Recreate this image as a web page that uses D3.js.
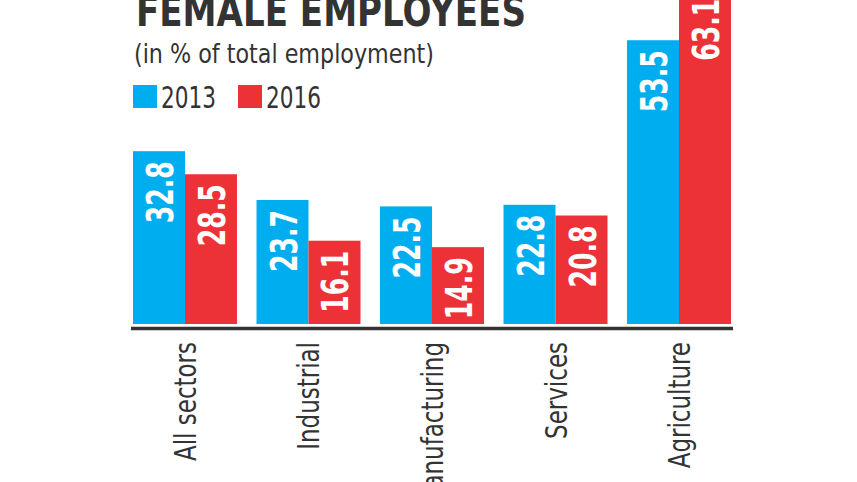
<!DOCTYPE html>
<html>
<head>
<meta charset="utf-8">
<script src="https://cdn.jsdelivr.net/npm/d3@7/dist/d3.min.js"></script>
<style>
  html, body { margin: 0; padding: 0; background: #fff; overflow: hidden; }
  svg { display: block; }
  .narrow { font-family: "Liberation Sans Narrow", "Arial Narrow", "DejaVu Sans Condensed", "DejaVu Sans", sans-serif; }
</style>
</head>
<body>
<svg id="chart" width="857" height="482"></svg>
<script>
const categories = ["All sectors", "Industrial", "Manufacturing", "Services", "Agriculture"];
const years = ["2013", "2016"];
const values2013 = [32.8, 23.7, 22.5, 22.8, 53.5];
const values2016 = [28.5, 16.1, 14.9, 20.8, 63.1];
const titleText = "FEMALE EMPLOYEES";
const subtitleText = "(in % of total employment)";

const colors = { "2013": "#00aeef", "2016": "#ed3237" };
const ink = "#333333";

const svg = d3.select("#chart");
const W = 857, H = 482;
svg.append("rect").attr("width", W).attr("height", H).attr("fill", "#fff");

const series = { "2013": values2013, "2016": values2016 };
const rows = categories.map((c, i) => ({ category: c, values: years.map(y => ({ year: y, value: series[y][i] })) }));

const x = d3.scaleBand().domain(categories).range([133, 731]).paddingInner(0.158).paddingOuter(0);
const xs = d3.scaleBand().domain(years).range([0, x.bandwidth()]).padding(0);
const y = d3.scaleLinear().domain([0, 60]).range([327, 5.4]);
const barBottom = y(0) - 3;

// condense a set of texts so that the reference node gets the target length
function condense(sel, refNode, target) {
  const factor = target / refNode.getComputedTextLength();
  sel.each(function () {
    const len = this.getComputedTextLength();
    d3.select(this).attr("textLength", len * factor).attr("lengthAdjust", "spacingAndGlyphs");
  });
}

// Title
const title = svg.append("text").attr("class", "narrow")
  .attr("x", 136).attr("y", 26)
  .attr("font-size", 43).attr("font-weight", "bold").attr("fill", ink)
  .text(titleText);
condense(title, title.node(), 390);

// Subtitle
const sub = svg.append("text").attr("class", "narrow")
  .attr("x", 134).attr("y", 63)
  .attr("font-size", 27).attr("fill", ink)
  .text(subtitleText);
condense(sub, sub.node(), 300);

// Legend
const legendX = [133, 238];
const lg = svg.selectAll("g.legend").data(years).join("g").attr("class", "legend")
  .attr("transform", (d, i) => `translate(${legendX[i]},85)`);
lg.append("rect").attr("width", 24).attr("height", 23).attr("fill", d => colors[d]);
const lgText = lg.append("text").attr("class", "narrow").attr("x", 28).attr("y", 23)
  .attr("font-size", 30).attr("fill", ink).text(d => d);
condense(lgText, lgText.node(), 55);

// Bars
const groups = svg.selectAll("g.group").data(rows).join("g").attr("class", "group")
  .attr("transform", d => `translate(${x(d.category)},0)`);

groups.selectAll("rect").data(d => d.values).join("rect")
  .attr("x", d => xs(d.year))
  .attr("y", d => y(d.value))
  .attr("width", xs.bandwidth())
  .attr("height", d => barBottom - y(d.value))
  .attr("fill", d => colors[d.year]);

const valText = groups.selectAll("text.val").data(d => d.values).join("text")
  .attr("class", "val narrow")
  .attr("transform", d => `translate(${xs(d.year) + xs.bandwidth() / 2 + 14},${y(d.value) + 10}) rotate(-90)`)
  .attr("text-anchor", "end")
  .attr("font-size", 38).attr("font-weight", "bold").attr("fill", "#fff")
  .text(d => d.value.toFixed(1));
condense(valText, valText.node(), 62);

// Axis line
svg.append("line")
  .attr("x1", 131).attr("x2", 733)
  .attr("y1", y(0) + 1.5).attr("y2", y(0) + 1.5)
  .attr("stroke", ink).attr("stroke-width", 3.5);

// Category labels
const catText = svg.selectAll("text.cat").data(categories).join("text")
  .attr("class", "cat narrow")
  .attr("transform", d => `translate(${x(d) + x.bandwidth() / 2 + 11},342) rotate(-90)`)
  .attr("text-anchor", "end")
  .attr("font-size", 30).attr("fill", ink)
  .text(d => d);
condense(catText, catText.node(), 119);
</script>
</body>
</html>
